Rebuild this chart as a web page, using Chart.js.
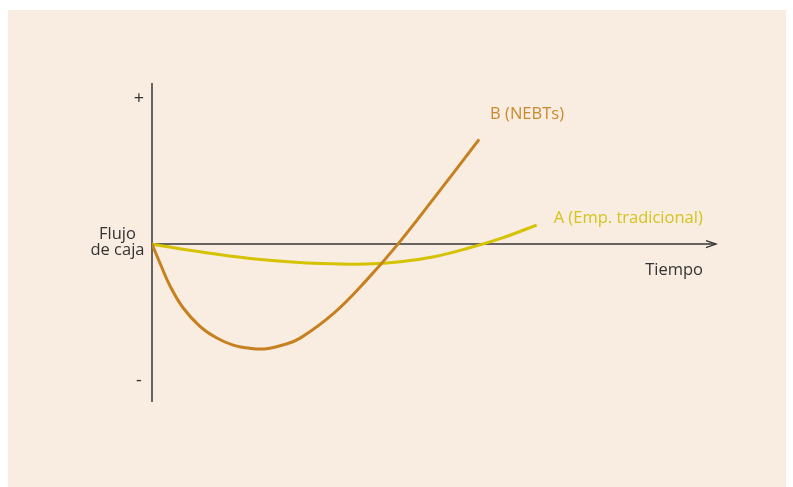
<!DOCTYPE html>
<html>
<head>
<meta charset="utf-8">
<script src="https://cdn.jsdelivr.net/npm/chart.js@4"></script>
<style>
  html, body { margin: 0; padding: 0; background: #fff; }
  #panel {
    position: absolute; left: 8px; top: 10px;
    width: 778px; height: 477px;
    background: #f9ece0;
  }
  canvas { display: block; }
</style>
</head>
<body>
<div id="panel"><canvas id="chart" width="778" height="477"></canvas></div>
<script>
// Curve B (NEBTs): deep early loss, fast recovery
const timeB = [0, 1.5, 3.2, 5.5, 8.5, 11.5, 14.4, 17.4, 20.3, 23.3, 26.2, 32.2, 38, 43.6, 50, 58];
const flowB = [0, -12.5, -26, -39.5, -51, -58.3, -62.7, -64.7, -65, -62.5, -58.5, -43, -22.5, 0, 28.5, 65];

// Curve A (traditional firm): shallow loss, slow recovery
const timeA = [0, 8.5, 17.4, 26.2, 32, 38, 44, 50, 56, 62, 68.2];
const flowA = [0, -4.8, -8.9, -11.4, -12.2, -12.4, -11, -7.8, -2.6, 3.7, 11.8];

const seriesLabels = ['B (NEBTs)', 'A (Emp. tradicional)'];
const axisTexts = { plus: '+', minus: '-', yTitle: ['Flujo', 'de caja'], xTitle: 'Tiempo' };

const FONT = '16.5px "Open Sans", sans-serif';
const colorB = '#c7801f';
const colorA = '#d5c200';

function toPoints(xs, ys) {
    return xs.map((x, i) => ({ x: x, y: ys[i] }));
}

// Axes, arrow and all annotation text
const sketchPlugin = {
    id: 'sketch',
    beforeDatasetsDraw(chart) {
        const ctx = chart.ctx;
        const xs = chart.scales.x, ys = chart.scales.y;
        const x0 = xs.getPixelForValue(0), y0 = ys.getPixelForValue(0);
        const top = chart.chartArea.top, bottom = chart.chartArea.bottom, right = chart.chartArea.right;
        ctx.save();
        ctx.strokeStyle = '#363636';
        ctx.lineWidth = 1.5;
        ctx.beginPath();
        ctx.moveTo(x0, top);
        ctx.lineTo(x0, bottom);
        ctx.moveTo(x0, y0);
        ctx.lineTo(right, y0);
        ctx.stroke();
        ctx.lineWidth = 1.3;
        ctx.beginPath();
        ctx.moveTo(right - 10, y0 - 3.5);
        ctx.lineTo(right, y0);
        ctx.lineTo(right - 10, y0 + 3.5);
        ctx.stroke();
        ctx.restore();
    },
    afterDatasetsDraw(chart) {
        const ctx = chart.ctx;
        const xs = chart.scales.x, ys = chart.scales.y;
        const x0 = xs.getPixelForValue(0), y0 = ys.getPixelForValue(0);
        const top = chart.chartArea.top, bottom = chart.chartArea.bottom;
        ctx.save();
        ctx.textBaseline = 'middle';
        ctx.fillStyle = '#333';
        ctx.textAlign = 'center';
        ctx.font = '18px "Open Sans", sans-serif';
        ctx.fillText(axisTexts.plus, x0 - 13, top + 15.5);
        ctx.fillText(axisTexts.minus, x0 - 13, bottom - 21);
        ctx.font = FONT;
        ctx.fillText(axisTexts.yTitle[0], x0 - 34.5, y0 - 10);
        ctx.fillText(axisTexts.yTitle[1], x0 - 34.5, y0 + 6.5);
        ctx.textAlign = 'right';
        ctx.fillText(axisTexts.xTitle, chart.chartArea.right - 13, y0 + 26);

        ctx.textAlign = 'left';
        const lastB = chart.getDatasetMeta(0).data.at(-1);
        ctx.fillStyle = '#c98a2c';
        ctx.fillText(seriesLabels[0], lastB.x + 11, lastB.y - 25);
        const lastA = chart.getDatasetMeta(1).data.at(-1);
        ctx.fillStyle = '#d4c41c';
        ctx.fillText(seriesLabels[1], lastA.x + 17, lastA.y - 7);
        ctx.restore();
    }
};

new Chart(document.getElementById('chart'), {
    type: 'line',
    data: {
        datasets: [
            {
                label: seriesLabels[0],
                data: toPoints(timeB, flowB),
                borderColor: colorB,
                borderWidth: 3,
                pointRadius: 0,
                tension: 0.4,
                fill: false
            },
            {
                label: seriesLabels[1],
                data: toPoints(timeA, flowA),
                borderColor: colorA,
                borderWidth: 3,
                pointRadius: 0,
                tension: 0.4,
                fill: false
            }
        ]
    },
    options: {
        responsive: false,
        animation: false,
        layout: { padding: { left: 144, right: 70, top: 73, bottom: 85 } },
        plugins: {
            legend: { display: false },
            tooltip: { enabled: false }
        },
        scales: {
            x: { type: 'linear', min: 0, max: 100, display: false },
            y: { type: 'linear', min: -98, max: 100, display: false }
        }
    },
    plugins: [sketchPlugin]
});
</script>
</body>
</html>
